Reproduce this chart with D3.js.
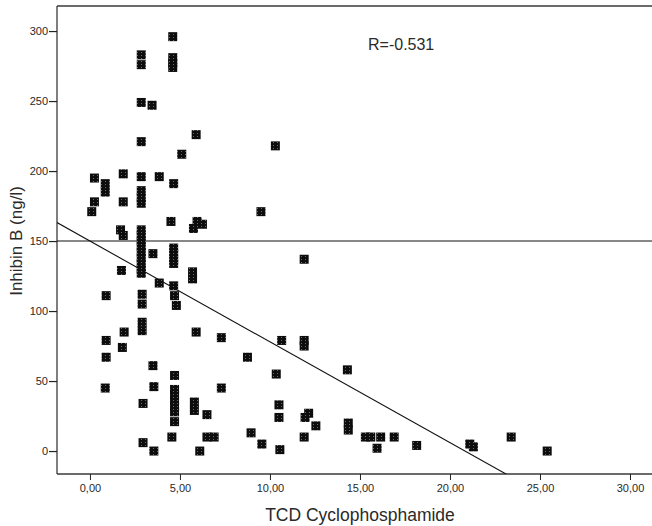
<!DOCTYPE html>
<html>
<head>
<meta charset="utf-8">
<script src="https://cdn.jsdelivr.net/npm/d3@7"></script>
<style>
  html, body { margin: 0; padding: 0; background: #fff; }
  svg { display: block; }
  text { font-family: Arial, "Liberation Sans", sans-serif; fill: #2a2a2a; }
</style>
</head>
<body>
<svg id="chart" width="652" height="526"></svg>
<script>
// TCD cyclophosphamide dose (x) vs. Inhibin B in ng/l (y), one entry per patient
const doseTCD = [
  4.6, 2.85, 2.85, 4.6, 4.6, 4.6, 2.85, 3.45, 5.9, 2.85,
  5.1, 10.3, 0.25, 0.85, 0.85, 0.25, 0.1, 1.85, 1.85, 2.85,
  3.85, 4.65, 2.85, 2.85, 2.85, 9.5, 4.5, 5.95, 6.25, 5.75,
  1.7, 1.85, 2.85, 2.85, 2.85, 2.85, 2.85, 2.85, 2.85, 2.85,
  2.85, 3.5, 4.65, 4.65, 4.65, 4.65, 1.75, 5.7, 5.7, 3.85,
  4.65, 4.7, 4.8, 0.9, 2.9, 2.9, 11.9, 2.9, 2.9, 1.9,
  5.9, 0.9, 7.3, 1.8, 0.9, 3.5, 8.75, 10.65, 11.9, 11.9,
  10.35, 14.3, 4.7, 0.85, 3.55, 7.3, 4.7, 4.7, 4.7, 4.7,
  4.7, 4.7, 2.95, 5.8, 5.8, 6.5, 10.5, 10.5, 12.15, 11.95,
  12.55, 14.35, 14.35, 4.55, 2.95, 3.55, 6.5, 6.9, 6.1, 11.9,
  8.95, 9.55, 10.55, 15.3, 15.6, 16.15, 15.95, 16.9, 18.15, 21.1,
  21.3, 23.4, 25.4
];
const inhibinB = [
  296, 283, 276, 281, 277, 274, 249, 247, 226, 221,
  212, 218, 195, 191, 185, 178, 171, 198, 178, 196,
  196, 191, 186, 181, 177, 171, 164, 164, 162, 159,
  158, 154, 158, 154, 150, 146, 142, 138, 134, 130,
  127, 141, 145, 141, 137, 134, 129, 128, 123, 120,
  118, 111, 104, 111, 112, 105, 137, 92, 86, 85,
  85, 79, 81, 74, 67, 61, 67, 79, 79, 75,
  55, 58, 54, 45, 46, 45, 44, 40, 36, 32,
  28, 21, 34, 35, 29, 26, 33, 24, 27, 24,
  18, 20, 15, 10, 6, 0, 10, 10, 0, 10,
  13, 5, 1, 10, 10, 10, 2, 10, 4, 5,
  3, 10, 0
];

// Axis ticks and labels
const xTicks = [0, 5, 10, 15, 20, 25, 30];
const xTickLabels = ["0,00", "5,00", "10,00", "15,00", "20,00", "25,00", "30,00"];
const yTicks = [0, 50, 100, 150, 200, 250, 300];

// Fitted regression line (intercept, slope), correlation and reference level
const fitIntercept = 150;
const fitSlope = -7.2;
const correlationText = "R=-0.531";
const referenceLevel = 150;

const svg = d3.select("#chart");
const plot = { left: 57, right: 657, top: 6, bottom: 474 };

const x = d3.scaleLinear().domain([-1.83, 31.5]).range([plot.left, plot.right]);
const y = d3.scaleLinear().domain([-16.4, 317.9]).range([plot.bottom, plot.top]);

// Speckled fill used for the square markers
const defs = svg.append("defs");
const pat = defs.append("pattern")
  .attr("id", "speckle")
  .attr("patternUnits", "userSpaceOnUse")
  .attr("width", 4).attr("height", 3);
pat.append("rect").attr("width", 4).attr("height", 3).attr("fill", "#0d0d0d");
pat.append("rect").attr("x", 1).attr("y", 1).attr("width", 1).attr("height", 1).attr("fill", "#6a6a6a");

defs.append("clipPath").attr("id", "plotClip")
  .append("rect")
  .attr("x", plot.left).attr("y", plot.top)
  .attr("width", plot.right - plot.left).attr("height", plot.bottom - plot.top);

// Frame (left, top, bottom)
const frame = svg.append("g").attr("stroke", "#3a3a3a").attr("stroke-width", 1.3).attr("fill", "none");
frame.append("line").attr("x1", plot.left).attr("x2", plot.left).attr("y1", plot.top).attr("y2", plot.bottom);
frame.append("line").attr("x1", plot.left).attr("x2", plot.right).attr("y1", plot.top).attr("y2", plot.top);
frame.append("line").attr("x1", plot.left).attr("x2", plot.right).attr("y1", plot.bottom).attr("y2", plot.bottom);

// Y axis
const yAxis = svg.append("g")
  .attr("transform", `translate(${plot.left},0)`)
  .call(d3.axisLeft(y).tickValues(yTicks).tickSize(8).tickPadding(1).tickFormat(d3.format("d")));
yAxis.select(".domain").remove();
yAxis.selectAll(".tick line").attr("stroke", "#222").attr("stroke-width", 1.2);
yAxis.selectAll(".tick text").style("font-size", "11px").attr("fill", "#333");

// X axis
const xAxis = svg.append("g")
  .attr("transform", `translate(0,${plot.bottom})`)
  .call(d3.axisBottom(x).tickValues(xTicks).tickSize(6).tickPadding(4)
    .tickFormat((d, i) => xTickLabels[i]));
xAxis.select(".domain").remove();
xAxis.selectAll(".tick line").attr("stroke", "#222");
xAxis.selectAll(".tick text").style("font-size", "11px").attr("fill", "#333");

const inner = svg.append("g").attr("clip-path", "url(#plotClip)");

// Reference level
inner.append("line")
  .attr("x1", plot.left).attr("x2", plot.right)
  .attr("y1", y(referenceLevel)).attr("y2", y(referenceLevel))
  .attr("stroke", "#111").attr("stroke-width", 1.1);

// Regression line
const xd = x.domain();
inner.append("line")
  .attr("x1", x(xd[0])).attr("y1", y(fitIntercept + fitSlope * xd[0]))
  .attr("x2", x(xd[1])).attr("y2", y(fitIntercept + fitSlope * xd[1]))
  .attr("stroke", "#111").attr("stroke-width", 1.1);

// Square markers
const m = 9;
inner.append("g").selectAll("rect")
  .data(d3.range(doseTCD.length))
  .join("rect")
  .attr("x", i => x(doseTCD[i]) - m / 2)
  .attr("y", i => y(inhibinB[i]) - m / 2)
  .attr("width", m).attr("height", m)
  .attr("fill", "url(#speckle)");

// Correlation label
svg.append("text")
  .attr("x", 368).attr("y", 50)
  .style("font-size", "16px")
  .text(correlationText);

// Axis titles
svg.append("text")
  .attr("x", 360).attr("y", 521)
  .attr("text-anchor", "middle")
  .style("font-size", "17.5px")
  .text("TCD Cyclophosphamide");

svg.append("text")
  .attr("transform", "translate(22,241) rotate(-90)")
  .attr("text-anchor", "middle")
  .style("font-size", "17px")
  .text("Inhibin B (ng/l)");
</script>
</body>
</html>
